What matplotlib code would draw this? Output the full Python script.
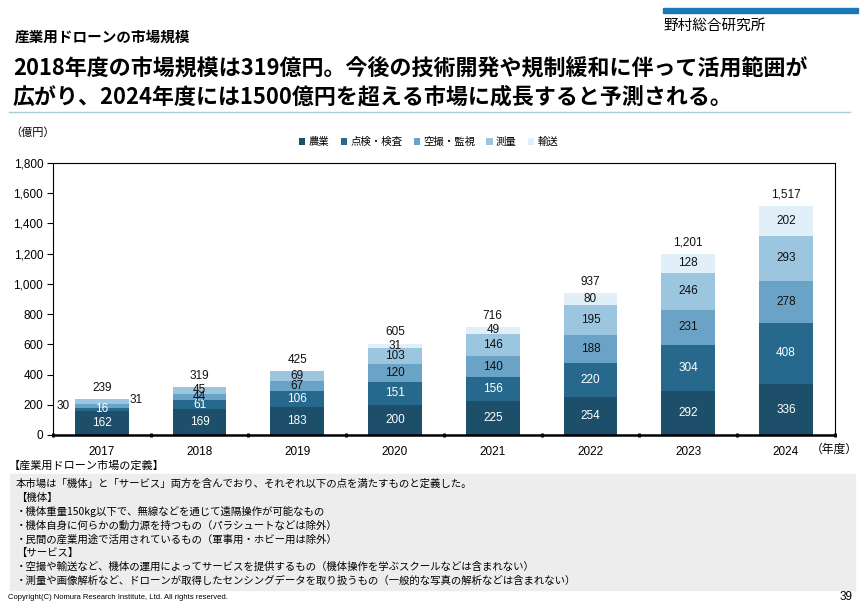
import numpy as np
import matplotlib.pyplot as plt
from matplotlib.patches import Rectangle
from matplotlib.ticker import FuncFormatter

plt.rcParams['font.family'] = ['Liberation Sans', 'Noto Sans CJK JP']
JP = ['Noto Sans CJK JP', 'DejaVu Sans']

years = ['2017', '2018', '2019', '2020', '2021', '2022', '2023', '2024']
categories = ['農業', '点検・検査', '空撮・監視', '測量', '輸送']
agri = [162, 169, 183, 200, 225, 254, 292, 336]
inspect = [16, 61, 106, 151, 156, 220, 304, 408]
aerial = [30, 44, 67, 120, 140, 188, 231, 278]
survey = [31, 45, 69, 103, 146, 195, 246, 293]
transport = [0, 0, 0, 31, 49, 80, 128, 202]
totals = [239, 319, 425, 605, 716, 937, 1201, 1517]

colors = ['#1d4f6b', '#26698c', '#6aa3c6', '#9cc6e0', '#e1eff9']
text_colors = ['white', 'white', '#111111', '#111111', '#111111']

series = [agri, inspect, aerial, survey, transport]

fig = plt.figure(figsize=(8.66, 6.05), dpi=100)
ax = fig.add_axes([0.0612, 0.281, 0.9028, 0.4496])

x = np.arange(len(years))
w = 0.55
bottom = np.zeros(len(years))
for i, (vals, c) in enumerate(zip(series, colors)):
    vals = np.array(vals, dtype=float)
    ax.bar(x, vals, w, bottom=bottom, color=c, label=categories[i], zorder=2)
    for j, v in enumerate(vals):
        if v <= 0:
            continue
        cx = x[j]
        cy = bottom[j] + v / 2
        # 2017: small segments labelled beside the bar
        if j == 0 and i == 2:
            cx = x[j] - 0.40
            col = '#111111'
        elif j == 0 and i == 3:
            cx = x[j] + 0.35
            cy += 8
            col = '#111111'
        else:
            col = text_colors[i]
        ax.text(cx, cy, f'{int(v)}', ha='center', va='center',
                fontsize=8.5, color=col, zorder=3)
    bottom += vals

for j, t in enumerate(totals):
    ax.annotate(f'{t:,}', (x[j], t), xytext=(0, 8), textcoords='offset points',
                ha='center', va='center', fontsize=8.5, color='#111111')

ax.set_xlim(-0.5, len(years) - 0.5)
ax.set_ylim(0, 1800)
ax.set_yticks(np.arange(0, 1801, 200))
ax.yaxis.set_major_formatter(FuncFormatter(lambda v, p: f'{int(v):,}'))
ax.set_xticks(x)
ax.set_xticklabels(years)
ax.set_xticks(np.arange(-0.5, len(years)), minor=True)
ax.tick_params(axis='x', which='major', length=0, labelsize=8.5, pad=8)
ax.tick_params(axis='x', which='minor', length=3, width=2, direction='inout')
ax.tick_params(axis='y', length=4, width=0.8, labelsize=8.5, pad=3)
for s in ['top', 'right', 'left']:
    ax.spines[s].set_linewidth(0.8)
ax.spines['bottom'].set_linewidth(1.8)

fig.text(0.936, 0.257, '（年度）', ha='left', va='center', fontsize=8.5, family=JP)

leg = fig.legend(loc='center', bbox_to_anchor=(0.495, 0.765), ncol=5, frameon=False,
                 handlelength=0.6, handleheight=0.6,
                 handletextpad=0.3, columnspacing=1.1, prop={'family': JP, 'size': 7.5})

fig.text(0.012, 0.781, '（億円）', fontsize=8, family=JP, va='center')

# header
fig.patches.append(Rectangle((0.766, 0.979), 0.225, 0.008, transform=fig.transFigure,
                             color='#1a78b9', zorder=1))
fig.text(0.766, 0.957, '野村総合研究所', fontsize=10.5, family=JP, va='center')
fig.text(0.017, 0.939, '産業用ドローンの市場規模', fontsize=10.5, family=JP,
         weight='bold', va='center')
fig.text(0.015, 0.888, '2018年度の市場規模は319億円。今後の技術開発や規制緩和に伴って活用範囲が',
         fontsize=15.8, family=JP, weight='bold', va='center')
fig.text(0.015, 0.840, '広がり、2024年度には1500億円を超える市場に成長すると予測される。',
         fontsize=15.8, family=JP, weight='bold', va='center')
fig.lines.append(plt.Line2D([0.01, 0.982], [0.815, 0.815], transform=fig.transFigure,
                            color='#a9cdd2', lw=1))

# definitions box
fig.text(0.010, 0.231, '【産業用ドローン市場の定義】', fontsize=8, family=JP, va='center')
fig.patches.append(Rectangle((0.012, 0.025), 0.975, 0.192, transform=fig.transFigure,
                             color='#ededed', zorder=0))
lines = [
    '本市場は「機体」と「サービス」両方を含んでおり、それぞれ以下の点を満たすものと定義した。',
    '【機体】',
    '・機体重量150kg以下で、無線などを通じて遠隔操作が可能なもの',
    '・機体自身に何らかの動力源を持つもの（パラシュートなどは除外）',
    '・民間の産業用途で活用されているもの（軍事用・ホビー用は除外）',
    '【サービス】',
    '・空撮や輸送など、機体の運用によってサービスを提供するもの（機体操作を学ぶスクールなどは含まれない）',
    '・測量や画像解析など、ドローンが取得したセンシングデータを取り扱うもの（一般的な写真の解析などは含まれない）',
]
for k, s in enumerate(lines):
    fig.text(0.018, 0.200 - k * 0.0228, s, fontsize=7.5, family=JP, va='center')

fig.text(0.009, 0.013, 'Copyright(C) Nomura Research Institute, Ltd. All rights reserved.',
         fontsize=5.5, va='center')
fig.text(0.970, 0.013, '39', fontsize=8.5, va='center')

fig.savefig('out.png', dpi=100)
